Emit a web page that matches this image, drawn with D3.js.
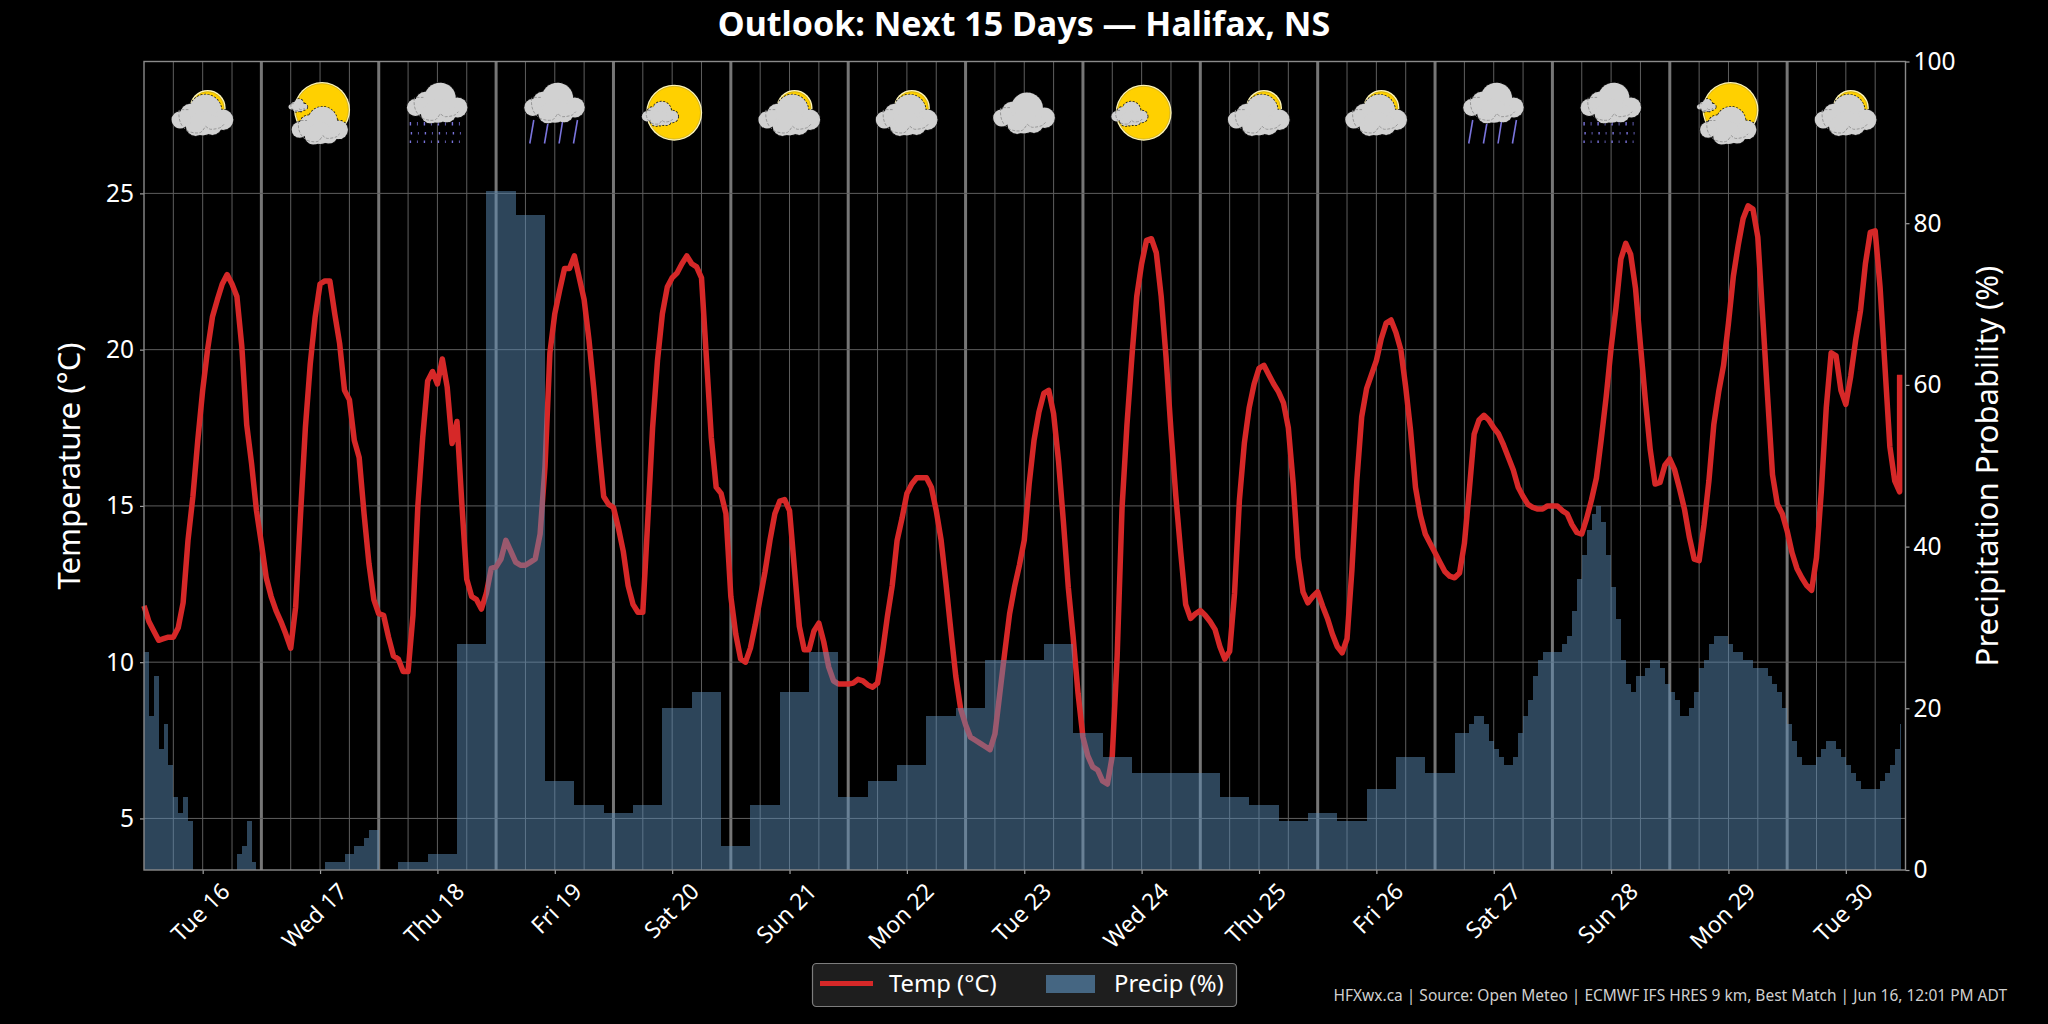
<!DOCTYPE html>
<html>
<head>
<meta charset="utf-8">
<title>Outlook: Next 15 Days — Halifax, NS</title>
<script src="https://cdn.jsdelivr.net/npm/d3@7"></script>
<style>
html,body{margin:0;padding:0;background:#000;}
svg{display:block;font-family:"Noto Sans",sans-serif;}
</style>
</head>
<body>
<svg id="chart" width="2048" height="1024"></svg>
<script>
// Hourly temperature in degrees C, one row per day. The last reading repeats the final hour.
const tempDay01 = [11.8,11.3,11.0,10.7,10.75,10.8,10.8,11.1,11.9,13.9,15.3,17.1,18.7,20.0,21.05,21.6,22.1,22.4,22.1,21.7,20.1,17.6,16.35,14.85];
const tempDay02 = [13.8,12.7,12.1,11.65,11.3,10.9,10.45,11.75,14.7,17.5,19.55,21.05,22.1,22.2,22.2,21.15,20.2,18.7,18.4,17.1,16.55,14.75,13.15,12.0];
const tempDay03 = [11.55,11.5,10.8,10.2,10.1,9.7,9.7,11.5,15.0,17.2,19.0,19.3,18.9,19.7,18.8,17.0,17.7,15.05,12.65,12.1,12.0,11.7,12.2,13.0];
const tempDay04 = [13.05,13.3,13.9,13.55,13.2,13.1,13.1,13.2,13.3,14.1,16.25,19.9,21.15,21.9,22.6,22.6,23.0,22.3,21.6,20.3,18.7,16.9,15.3,15.05];
const tempDay05 = [14.95,14.3,13.55,12.45,11.85,11.6,11.6,14.5,17.5,19.65,21.15,22.0,22.3,22.45,22.75,23.0,22.75,22.65,22.3,19.75,17.2,15.6,15.4,14.75];
const tempDay06 = [12.1,10.9,10.1,10.0,10.45,11.2,12.05,12.9,13.9,14.75,15.15,15.2,14.85,13.0,11.15,10.4,10.4,11.0,11.25,10.65,9.85,9.4,9.3,9.3];
const tempDay07 = [9.3,9.33,9.45,9.4,9.27,9.2,9.33,10.3,11.45,12.45,13.9,14.6,15.4,15.7,15.9,15.9,15.9,15.6,14.85,13.9,12.5,11.0,9.55,8.5];
const tempDay08 = [8.0,7.6,7.5,7.4,7.3,7.2,7.7,9.0,10.3,11.55,12.4,13.1,13.9,15.7,17.1,18.0,18.6,18.7,17.95,16.45,14.5,12.4,10.8,9.0];
const tempDay09 = [7.6,7.0,6.65,6.55,6.2,6.1,7.0,10.2,14.95,17.6,19.75,21.7,22.75,23.5,23.55,23.1,21.7,19.75,17.4,15.3,13.5,11.85,11.4,11.55];
const tempDay10 = [11.65,11.5,11.3,11.05,10.5,10.1,10.35,12.2,15.2,17.0,18.15,18.9,19.4,19.5,19.2,18.9,18.65,18.3,17.5,15.7,13.35,12.25,11.9,12.1];
const tempDay11 = [12.25,11.8,11.4,10.9,10.5,10.3,10.75,12.95,15.8,17.85,18.75,19.2,19.65,20.35,20.85,20.95,20.55,20.0,18.8,17.4,15.6,14.7,14.1,13.8];
const tempDay12 = [13.5,13.2,12.9,12.75,12.7,12.85,13.8,15.5,17.3,17.75,17.9,17.75,17.5,17.3,16.95,16.55,16.15,15.6,15.3,15.05,14.95,14.9,14.9,15.0];
const tempDay13 = [15.0,15.0,14.85,14.75,14.4,14.15,14.1,14.6,15.2,15.9,17.15,18.5,20.05,21.35,22.9,23.4,23.05,21.95,20.15,18.4,16.8,15.7,15.75,16.3];
const tempDay14 = [16.5,16.15,15.55,14.9,14.0,13.3,13.25,14.4,15.8,17.6,18.65,19.5,20.85,22.35,23.35,24.2,24.6,24.5,23.6,21.05,18.5,16.0,15.05,14.75];
const tempDay15 = [14.2,13.5,13.0,12.7,12.45,12.3,13.35,15.5,18.15,19.9,19.8,18.7,18.25,19.15,20.3,21.25,22.75,23.75,23.8,22.0,19.45,16.9,15.8,15.45,19.2];

// Hourly probability of precipitation in percent, one row per day.
const precipDay01 = [27,19,24,15,18,13,9,7,9,6,0,0,0,0,0,0,0,0,0,2,3,6,1,0];
const precipDay02 = [0,0,0,0,0,0,0,0,0,0,0,0,0,1,1,1,1,2,2,3,3,4,5,5];
const precipDay03 = [0,0,0,0,1,1,1,1,1,1,2,2,2,2,2,2,28,28,28,28,28,28,84,84];
const precipDay04 = [84,84,84,84,81,81,81,81,81,81,11,11,11,11,11,11,8,8,8,8,8,8,7,7];
const precipDay05 = [7,7,7,7,8,8,8,8,8,8,20,20,20,20,20,20,22,22,22,22,22,22,3,3];
const precipDay06 = [3,3,3,3,8,8,8,8,8,8,22,22,22,22,22,22,27,27,27,27,27,27,9,9];
const precipDay07 = [9,9,9,9,11,11,11,11,11,11,13,13,13,13,13,13,19,19,19,19,19,19,20,20];
const precipDay08 = [20,20,20,20,26,26,26,26,26,26,26,26,26,26,26,26,28,28,28,28,28,28,17,17];
const precipDay09 = [17,17,17,17,14,14,14,14,14,14,12,12,12,12,12,12,12,12,12,12,12,12,12,12];
const precipDay10 = [12,12,12,12,9,9,9,9,9,9,8,8,8,8,8,8,6,6,6,6,6,6,7,7];
const precipDay11 = [7,7,7,7,6,6,6,6,6,6,10,10,10,10,10,10,14,14,14,14,14,14,12,12];
const precipDay12 = [12,12,12,12,17,17,17,18,19,19,18,16,15,14,13,13,14,17,19,21,24,26,27,27];
const precipDay13 = [27,27,28,29,32,36,39,42,44,45,43,39,35,31,26,23,22,24,24,25,26,26,25,23];
const precipDay14 = [22,21,19,19,20,22,25,26,28,29,29,29,28,27,27,26,26,25,25,25,24,23,22,20];
const precipDay15 = [18,16,14,13,13,13,14,15,16,16,15,14,13,12,11,10,10,10,10,11,12,13,15,18];

// Day labels under the noon ticks and the sky condition drawn for each day.
const dayLabels = ["Tue 16","Wed 17","Thu 18","Fri 19","Sat 20","Sun 21","Mon 22","Tue 23","Wed 24","Thu 25","Fri 26","Sat 27","Sun 28","Mon 29","Tue 30"];
const skyIcons = ["partly","mostlySunny","drizzle","rain","sunny","partly","partly","cloudy","sunny","partly","partly","rain","drizzle","mostlySunny","partly"];
const tempTicks = [5,10,15,20,25];
const precipTicks = [0,20,40,60,80,100];

const titleText = "Outlook: Next 15 Days — Halifax, NS";
const footerText = "HFXwx.ca | Source: Open Meteo | ECMWF IFS HRES 9 km, Best Match | Jun 16, 12:01 PM ADT";

const temps = [tempDay01,tempDay02,tempDay03,tempDay04,tempDay05,tempDay06,tempDay07,tempDay08,tempDay09,tempDay10,tempDay11,tempDay12,tempDay13,tempDay14,tempDay15].flat();
const precip = [precipDay01,precipDay02,precipDay03,precipDay04,precipDay05,precipDay06,precipDay07,precipDay08,precipDay09,precipDay10,precipDay11,precipDay12,precipDay13,precipDay14,precipDay15].flat();

const plot = {left:144, right:1905.5, top:61.5, bottom:870};
const lastHour = precip.length - 1;

const x = d3.scaleLinear().domain([0,360.2]).range([plot.left,plot.right]);
const yTemp = d3.scaleLinear().domain([3.35,29.22]).range([plot.bottom,plot.top]);
const yPrecip = d3.scaleLinear().domain([0,100]).range([plot.bottom,plot.top]);

const svg = d3.select("#chart");
svg.append("rect").attr("width",2048).attr("height",1024).attr("fill","#000");

// Grid: light lines every six hours, heavier lines at midnight.
const gridColor = "#5e5e5e";
const sixHourly = d3.range(6,360,6);
svg.append("g").selectAll("line").data(sixHourly).join("line")
  .attr("x1",d=>x(d)).attr("x2",d=>x(d))
  .attr("y1",plot.top).attr("y2",plot.bottom)
  .attr("stroke",d=>d%24===0?"#767676":gridColor)
  .attr("stroke-width",d=>d%24===0?3:1);
svg.append("g").selectAll("line").data(tempTicks).join("line")
  .attr("x1",plot.left).attr("x2",plot.right)
  .attr("y1",d=>yTemp(d)).attr("y2",d=>yTemp(d))
  .attr("stroke",gridColor).attr("stroke-width",1);

// Temperature sits under the translucent precipitation bars.
const tempLine = d3.line()
  .x((d,i)=>x(Math.min(i,lastHour)))
  .y(d=>yTemp(d))
  .curve(d3.curveLinear);
svg.append("path").datum(temps)
  .attr("fill","none").attr("stroke","#d62828").attr("stroke-width",5.5)
  .attr("stroke-linejoin","round").attr("stroke-linecap","butt")
  .attr("d",tempLine);

// The closing bar is cut short where the forecast run ends.
const barEnd = h => Math.min(h+1,lastHour+0.25);
svg.append("g").attr("shape-rendering","crispEdges")
  .selectAll("rect").data(precip.map((v,h)=>({h,v})).filter(d=>d.v>0)).join("rect")
  .attr("x",d=>Math.round(x(d.h)))
  .attr("width",d=>Math.max(1,Math.round(x(barEnd(d.h)))-Math.round(x(d.h))))
  .attr("y",d=>yPrecip(d.v))
  .attr("height",d=>plot.bottom-yPrecip(d.v))
  .attr("fill","#5b8db8").attr("fill-opacity",0.49);

// Sky icons, centred on each day's noon.
const cloudLobes = [[-22,5.7,8.5],[-12,0,10],[2.7,-3.3,15.7],[20,5.7,10],[-7,12,9.5],[9.5,11,9.5],[0,9,12]];
const cloudCrease = "M-23,-4C-24,3 -23,12 -14,17C-9,19 -4,19 -2,18C0,17 2,13 3,12C5,14 7,15 8,15C12,15 16,14 18,13C19,12 20,11 21,10";
const cloudFold = "M-21,-4.3L-14,-4.3";

function drawCloud(g,cx,cy,k){
  const c = g.append("g").attr("transform",`translate(${cx},${cy}) scale(${k})`);
  c.selectAll("circle.rim").data(cloudLobes).join("circle").attr("class","rim")
    .attr("cx",d=>d[0]).attr("cy",d=>d[1]).attr("r",d=>d[2])
    .attr("fill","none").attr("stroke","#1a1a1a").attr("stroke-width",1.6/k).attr("stroke-dasharray",`${2/k} ${1.5/k}`);
  c.selectAll("circle.body").data(cloudLobes).join("circle").attr("class","body")
    .attr("cx",d=>d[0]).attr("cy",d=>d[1]).attr("r",d=>d[2])
    .attr("fill","#d1d1d1");
  [cloudCrease,cloudFold].forEach(p=>c.append("path").attr("d",p)
    .attr("fill","none").attr("stroke","#8a8a8a").attr("stroke-width",0.8/k).attr("stroke-dasharray",`${3/k} ${1.5/k}`));
}
function drawSun(g,cx,cy,r){
  g.append("circle").attr("cx",cx).attr("cy",cy).attr("r",r).attr("fill","#fff6b8");
  g.append("circle").attr("cx",cx).attr("cy",cy).attr("r",r-1.6).attr("fill","#ffd000").attr("stroke","#b89c14").attr("stroke-width",0.6);
}
const rainColor = "#7a74dc";
function drawDrizzle(g,cx){
  const rows = [[122,3.5],[132,2.5],[140.5,2.5]];
  const offs = [-27,-20,-13,-6,1,8,15,22];
  rows.forEach((r,ri)=>offs.forEach((o,i)=>{
    g.append("line").attr("x1",cx+o+(ri%2?1:0)).attr("x2",cx+o+(ri%2?1:0))
      .attr("y1",r[0]).attr("y2",r[0]+r[1])
      .attr("stroke",rainColor).attr("stroke-width",i%2?0.8:1.4);
  }));
}
function drawRain(g,cx){
  [[-21,-25],[-6.3,-10.3],[8,4.3],[22.7,18.7]].forEach(s=>{
    g.append("line").attr("x1",cx+s[0]).attr("x2",cx+s[1])
      .attr("y1",120).attr("y2",143.5)
      .attr("stroke",rainColor).attr("stroke-width",1.6);
  });
}
const iconLayer = svg.append("g");
const iconDraw = {
  partly:(g,cx)=>{drawSun(g,cx+5,108,18);drawCloud(g,cx,114,1.02);},
  cloudy:(g,cx)=>{drawCloud(g,cx,112,1.02);},
  mostlySunny:(g,cx)=>{drawSun(g,cx+2,110,28);drawCloud(g,cx,124.5,0.93);drawCloud(g,cx-22,105,0.31);},
  sunny:(g,cx)=>{drawSun(g,cx+2,112.7,28);drawCloud(g,cx-12,113,0.6);},
  drizzle:(g,cx)=>{drawDrizzle(g,cx);drawCloud(g,cx,101.7,1);},
  rain:(g,cx)=>{drawRain(g,cx);drawCloud(g,cx,101.7,1);}
};
skyIcons.forEach((kind,i)=>iconDraw[kind](iconLayer.append("g"),x(12+24*i)));

// Axes share one styling helper.
function styleAxis(g,size){
  g.selectAll(".domain").remove();
  g.selectAll(".tick line").attr("stroke","#a0a0a0").attr("stroke-width",1.2);
  g.selectAll(".tick text").attr("fill","#fff").style("font-size",size+"px").style("font-family",'"Noto Sans",sans-serif');
}
const axisTemp = svg.append("g").attr("transform",`translate(${plot.left},0)`)
  .call(d3.axisLeft(yTemp).tickValues(tempTicks).tickSize(4).tickPadding(6));
styleAxis(axisTemp,24.5);
const axisPrecip = svg.append("g").attr("transform",`translate(${plot.right},0)`)
  .call(d3.axisRight(yPrecip).tickValues(precipTicks).tickSize(4).tickPadding(4));
styleAxis(axisPrecip,24.5);
const axisDays = svg.append("g").attr("transform",`translate(0,${plot.bottom})`)
  .call(d3.axisBottom(x).tickValues(dayLabels.map((d,i)=>12+24*i)).tickFormat((d,i)=>dayLabels[i]).tickSize(4));
styleAxis(axisDays,23);
axisDays.selectAll(".tick text")
  .attr("text-anchor","end").attr("dx",0).attr("dy",0)
  .attr("transform","translate(28,23) rotate(-45)")
  .attr("y",0).attr("x",0);

// Plot frame drawn last so it stays crisp above the marks.
svg.append("rect")
  .attr("x",plot.left).attr("y",plot.top)
  .attr("width",plot.right-plot.left).attr("height",plot.bottom-plot.top)
  .attr("fill","none").attr("stroke","#8a8a8a").attr("stroke-width",1.4);

// Title and axis names.
svg.append("text").attr("x",1024).attr("y",36).attr("text-anchor","middle")
  .attr("fill","#fff").attr("font-weight",700).attr("font-size",34).text(titleText);
svg.append("text").attr("transform","translate(80,466) rotate(-90)").attr("text-anchor","middle")
  .attr("fill","#fff").attr("font-size",31).text("Temperature (°C)");
svg.append("text").attr("transform","translate(1998,466) rotate(-90)").attr("text-anchor","middle")
  .attr("fill","#fff").attr("font-size",31).text("Precipitation Probability (%)");

// Legend box.
const legend = svg.append("g");
legend.append("rect").attr("x",812.5).attr("y",963.5).attr("width",424).attr("height",43).attr("rx",4)
  .attr("fill","#1e1e1e").attr("stroke","#7d7d7d").attr("stroke-width",1.2);
legend.append("line").attr("x1",820).attr("x2",873).attr("y1",983.5).attr("y2",983.5)
  .attr("stroke","#d62828").attr("stroke-width",5);
legend.append("text").attr("x",889).attr("y",992).attr("fill","#fff").attr("font-size",23.8).text("Temp (°C)");
legend.append("rect").attr("x",1046).attr("y",975).attr("width",49).attr("height",18)
  .attr("fill","#5b8db8").attr("fill-opacity",0.65);
legend.append("text").attr("x",1114).attr("y",992).attr("fill","#fff").attr("font-size",23.8).text("Precip (%)");

// Source line.
svg.append("text").attr("x",2007).attr("y",1001).attr("text-anchor","end")
  .attr("fill","#cfcfcf").attr("font-size",15.5).text(footerText);
</script>
</body>
</html>
